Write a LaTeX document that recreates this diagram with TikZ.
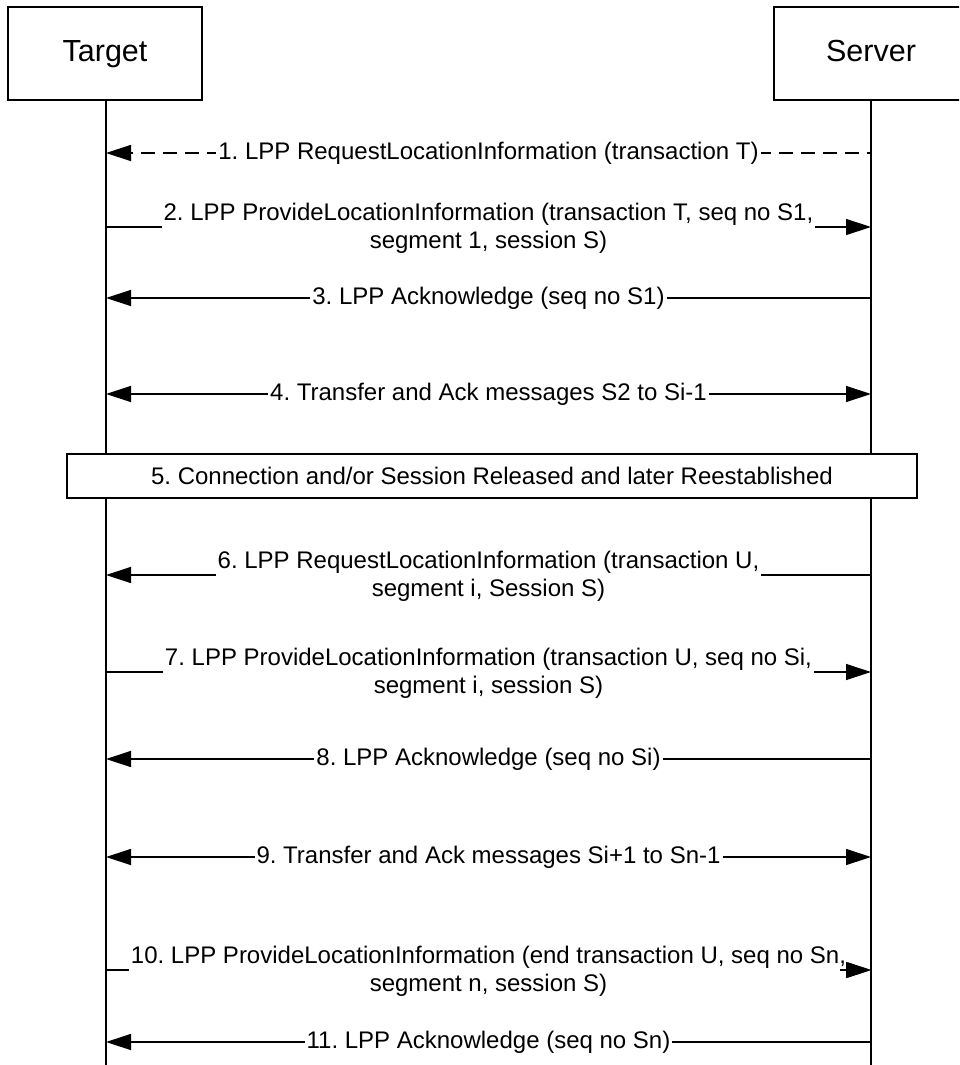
\documentclass[tikz,border=0pt]{standalone}
\usepackage{fontspec}
\setmainfont{Liberation Sans}
\usetikzlibrary{arrows.meta}
\frenchspacing
\begin{document}
\begin{tikzpicture}[x=1pt,y=-1pt,
  lbl/.style={fill=white,inner sep=2pt,align=center,font=\fontsize{24}{28}\selectfont\frenchspacing},
  lbltwo/.style={lbl,yshift=-1pt},
  actor/.style={draw,line width=1.3pt,minimum width=194pt,minimum height=93pt,inner sep=0pt,text height=22pt,text depth=6pt,font=\fontsize{30.5}{36}\selectfont},
  life/.style={line width=1.3pt},
  msg/.style={line width=1.3pt,-{Triangle[length=25pt,width=16pt]}},
  dmsg/.style={line width=1.3pt,{Triangle[length=25pt,width=16pt]}-{Triangle[length=25pt,width=16pt]}},
  dashmsg/.style={msg,dash pattern=on 14pt off 8pt,dash phase=10pt},
  band/.style={draw,fill=white,line width=1.3pt,minimum width=850pt,minimum height=44pt,inner sep=0pt,font=\fontsize{24}{28}\selectfont\frenchspacing}
]
\useasboundingbox (0,0) rectangle (959,1065);
\clip (0,0) rectangle (959,1065);
\node[actor] (T) at (105,53.5) {Target};
\node[actor] (S) at (871,53.5) {Server};
\coordinate (Tb) at (106,1066);
\coordinate (Sb) at (871,1066);
\draw[life] (T.south -| Tb) -- (Tb);
\draw[life] (S.south) -- (Sb);
% message coordinates
\foreach \n/\y in {1/153,2/227,3/298,4/394,6/575,7/672,8/759,9/857,10/970,11/1042}{
  \coordinate (t\n) at (106,\y);
  \coordinate (s\n) at (871,\y);
}
\coordinate (a10) at (840,970);
\draw[dashmsg] (s1) -- node[lbl] (m1) {1. LPP RequestLocationInformation (transaction T)} (t1);
\draw[msg] (t2) -- node[lbltwo] (m2) {2. LPP ProvideLocationInformation (transaction T, seq no S1,\\segment 1, session S)} (s2);
\draw[msg] (s3) -- node[lbl] (m3) {3. LPP Acknowledge (seq no S1)} (t3);
\draw[dmsg] (t4) -- node[lbl] (m4) {4. Transfer and Ack messages S2 to Si-1} (s4);
\node[band] (b5) at (492,476) {5. Connection and/or Session Released and later Reestablished};
\draw[msg] (s6) -- node[lbltwo] (m6) {6. LPP RequestLocationInformation (transaction U,\\segment i, Session S)} (t6);
\draw[msg] (t7) -- node[lbltwo] (m7) {7. LPP ProvideLocationInformation (transaction U, seq no Si,\\segment i, session S)} (s7);
\draw[msg] (s8) -- node[lbl] (m8) {8. LPP Acknowledge (seq no Si)} (t8);
\draw[dmsg] (t9) -- node[lbl] (m9) {9. Transfer and Ack messages Si+1 to Sn-1} (s9);
\draw[msg] (t10) -- node[lbltwo] (m10) {10. LPP ProvideLocationInformation (end transaction U, seq no Sn,\\segment n, session S)} (s10);
\draw[msg] (a10) -- (s10);
\draw[msg] (s11) -- node[lbl] (m11) {11. LPP Acknowledge (seq no Sn)} (t11);
\end{tikzpicture}
\end{document}
